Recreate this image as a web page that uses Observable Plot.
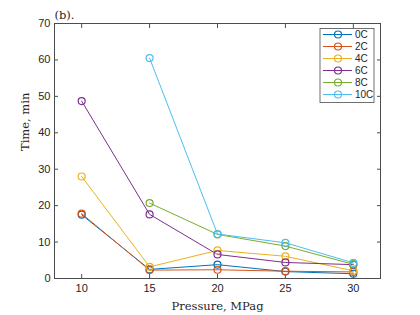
<!DOCTYPE html>
<html>
<head>
<meta charset="utf-8">
<script src="https://cdn.jsdelivr.net/npm/d3@7"></script>
<script src="https://cdn.jsdelivr.net/npm/@observablehq/plot@0.6"></script>
<style>
html,body{margin:0;padding:0;background:#fff;}
#chart{width:420px;height:315px;}
</style>
</head>
<body>
<div id="chart"></div>
<script>
const pressure = [10, 15, 20, 25, 30];
const seriesNames = ["0C", "2C", "4C", "6C", "8C", "10C"];
const colors = ["#0072BD", "#D95319", "#EDB120", "#7E2F8E", "#77AC30", "#4DBEEE"];
const t0C  = [17.5, 2.5, 3.8, 1.9, 1.3];
const t2C  = [17.8, 2.3, 2.4, 2.0, 1.8];
const t4C  = [28.0, 3.2, 7.7, 6.1, 2.1];
const t6C  = [48.7, 17.6, 6.6, 4.4, 3.8];
const t8C  = [null, 20.7, 12.1, 8.9, 3.9];
const t10C = [null, 60.5, 12.2, 9.8, 4.3];
const xTicks = [10, 15, 20, 25, 30];
const yTicks = [0, 10, 20, 30, 40, 50, 60, 70];

const allSeries = [t0C, t2C, t4C, t6C, t8C, t10C];
const rows = [];
allSeries.forEach((vals, i) => {
  vals.forEach((v, j) => {
    if (v != null) rows.push({series: seriesNames[i], pressure: pressure[j], time: v});
  });
});

const axisColor = "#4d4d4d";
const textColor = "#262626";
const serif = "'DejaVu Serif', 'Liberation Serif', serif";
const sans = "'Liberation Sans', Arial, sans-serif";

const plot = Plot.plot({
  width: 420,
  height: 315,
  marginLeft: 54,
  marginRight: 40,
  marginTop: 23,
  marginBottom: 37,
  style: {background: "#fff", overflow: "visible"},
  x: {domain: [8, 32], ticks: xTicks},
  y: {domain: [0, 70], ticks: yTicks},
  color: {domain: seriesNames, range: colors},
  marks: [
    Plot.frame({stroke: axisColor, strokeWidth: 1}),
    Plot.axisX(xTicks, {anchor: "bottom", tickSize: -4, tickPadding: 10, stroke: axisColor, fill: textColor, fontSize: 11, fontFamily: sans, label: null}),
    Plot.axisX(xTicks, {anchor: "top", tickSize: -4, tickFormat: () => "", stroke: axisColor, label: null}),
    Plot.axisY(yTicks, {anchor: "left", tickSize: -4, tickPadding: 8, stroke: axisColor, fill: textColor, fontSize: 11, fontFamily: sans, label: null}),
    Plot.axisY(yTicks, {anchor: "right", tickSize: -4, tickFormat: () => "", stroke: axisColor, label: null}),
    Plot.line(rows, {x: "pressure", y: "time", z: "series", stroke: "series", strokeWidth: 1}),
    Plot.dot(rows, {x: "pressure", y: "time", stroke: "series", r: 3.5, strokeWidth: 1.2, fill: "none"}),
    Plot.text(["Pressure, MPag"], {frameAnchor: "bottom", dy: 28, lineAnchor: "middle", fontSize: 11.5, fontFamily: serif, fill: textColor}),
    Plot.text(["Time, min"], {frameAnchor: "left", dx: -29, rotate: -90, lineAnchor: "middle", fontSize: 11.5, fontFamily: serif, fill: textColor}),
    Plot.text(["(b)."], {frameAnchor: "top-left", dy: -5, textAnchor: "start", lineAnchor: "bottom", fontSize: 11.5, fontFamily: serif, fill: textColor})
  ]
});

// Legend inside the axes (top-right)
const svg = d3.select(plot);
const lg = svg.append("g").attr("transform", "translate(320,28.5)");
lg.append("rect").attr("width", 54).attr("height", 74)
  .attr("fill", "#fff").attr("stroke", axisColor).attr("stroke-width", 0.8);
seriesNames.forEach((name, i) => {
  const y = 6 + i * 12;
  const g = lg.append("g").attr("transform", `translate(0,${y})`);
  g.append("line").attr("x1", 3).attr("x2", 32).attr("y1", 0).attr("y2", 0)
    .attr("stroke", colors[i]).attr("stroke-width", 1);
  g.append("circle").attr("cx", 18).attr("cy", 0).attr("r", 3.5)
    .attr("fill", "none").attr("stroke", colors[i]).attr("stroke-width", 1.2);
  g.append("text").attr("x", 35).attr("y", 0).attr("dy", "0.35em")
    .attr("text-anchor", "start")
    .attr("font-size", 10).attr("font-family", sans)
    .attr("fill", textColor).text(name);
});

document.getElementById("chart").appendChild(plot);
</script>
</body>
</html>
